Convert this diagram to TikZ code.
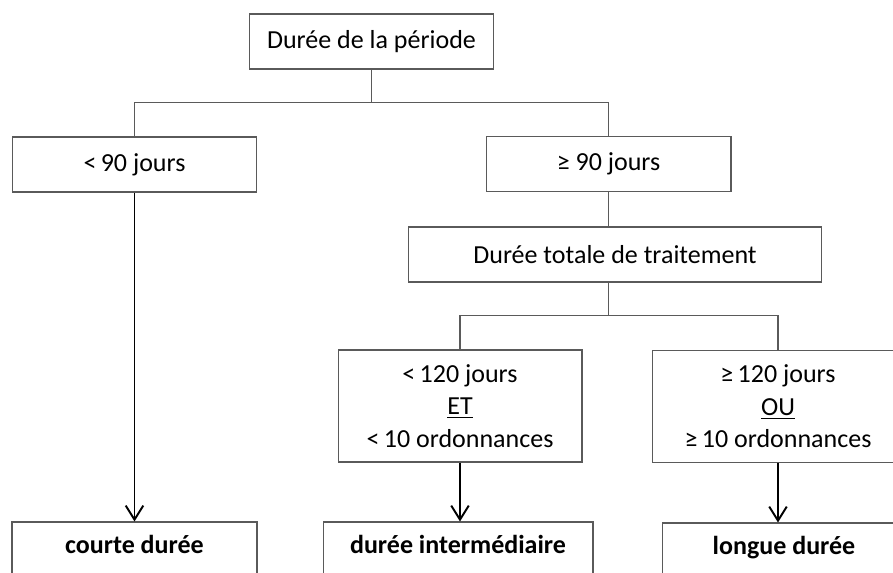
\documentclass[tikz,border=0pt]{standalone}
\usepackage{fontspec}
\setmainfont{Carlito}
\usetikzlibrary{arrows.meta}
\definecolor{boxline}{HTML}{5A5A5A}
\tikzset{>={Straight Barb[length=8pt,width=10pt]}}

\begin{document}
\begin{tikzpicture}[x=0.02cm,y=-0.02cm,font=\fontsize{14.8}{18.5}\selectfont,
    box/.style={draw=boxline,line width=0.6pt,align=center,inner sep=0pt},
    link/.style={draw=boxline,line width=0.6pt},
    arr/.style={->,line width=1.1pt},
    result/.style={box,minimum height=1.08cm,text height=0.75em,text depth=0.25em,
      font=\fontsize{14.8}{18.5}\selectfont\bfseries}]
  \clip (0,0) rectangle (893,573);
  \node[box,minimum width=4.88cm,minimum height=1.10cm] (periode) at (371.5,41.5) {Durée de la période};
  \node[box,minimum width=4.88cm,minimum height=1.10cm] (moins90) at (134.5,164.5) {<\,90 jours};
  \node[box,minimum width=4.90cm,minimum height=1.10cm] (plus90) at (608.5,164) {≥ 90 jours};
  \node[box,minimum width=8.28cm,minimum height=1.10cm] (totale) at (615,254.5) {Durée totale de traitement};
  \node[box,minimum width=4.88cm,minimum height=2.24cm] (moins120) at (460,406) {<\,120 jours\\\underline{ET}\\<\,10 ordonnances};
  \node[box,minimum width=5.04cm,minimum height=2.24cm] (plus120) at (778,406.5) {≥\,120 jours\\\underline{OU}\\≥\,10 ordonnances};
  \node[result,minimum width=4.90cm] (courte) at (134.5,549) {courte durée};
  \node[result,minimum width=5.40cm] (inter) at (458,549) {durée intermédiaire};
  \node[result,minimum width=4.88cm] (longue) at (784,550) {longue durée};

  \draw[link] (periode.south) -- ++(0,33) coordinate (fourche1);
  \draw[link] (moins90.north) |- (fourche1) -| (plus90.north);
  \draw[link] (plus90.south) -- (plus90.south |- totale.north);
  \draw[link] (plus90.south |- totale.south) -- ++(0,33) coordinate (fourche2);
  \draw[link] (moins120.north) |- (fourche2) -| (plus120.north);
  \draw[arr] (moins90.south) -- (courte.north);
  \draw[arr] (moins120.south) -- (moins120.south |- inter.north);
  \draw[arr] (plus120.south) -- (plus120.south |- longue.north);
\end{tikzpicture}
\end{document}
